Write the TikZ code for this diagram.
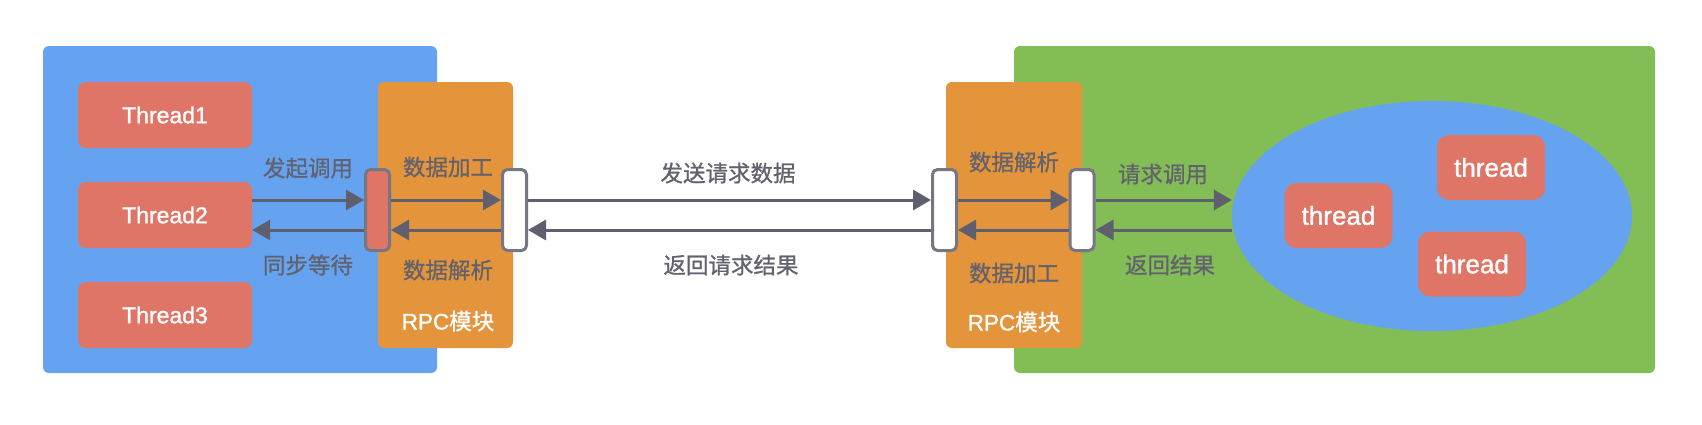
\documentclass[tikz,border=0pt]{standalone}
\usepackage{fontspec}
\setmainfont{Liberation Sans}
\newfontfamily\latinw{Liberation Sans}[FakeBold=1.2]
\newfontfamily\cjk{Noto Sans CJK SC}[FakeBold=0.9]
\usetikzlibrary{arrows.meta,shapes.geometric}
\definecolor{bluebg}{HTML}{65A3F1}
\definecolor{greenbg}{HTML}{83BD55}
\definecolor{orangebg}{HTML}{E4943A}
\definecolor{redbox}{HTML}{DF7566}
\definecolor{arrowgray}{HTML}{5F5F6D}
\definecolor{labelgray}{HTML}{62626E}
\begin{document}
\begin{tikzpicture}[x=1pt,y=-1pt,
  panel/.style={rectangle,rounded corners=6pt,inner sep=0pt,draw=none},
  threadbox/.style={rectangle,rounded corners=8pt,fill=redbox,inner sep=0pt,text=white,
    font=\latinw\fontsize{23}{27}\selectfont},
  smallthread/.style={rectangle,rounded corners=12pt,fill=redbox,inner sep=0pt,text=white,
    minimum width=108pt,minimum height=65pt,font=\latinw\fontsize{26}{30}\selectfont},
  port/.style={rectangle,rounded corners=5pt,draw=arrowgray!85,line width=3pt,
    minimum width=24pt,minimum height=81pt,inner sep=0pt},
  arr/.style={draw=arrowgray,line width=3pt,-{Triangle[length=18pt,width=20pt]}},
  lbl/.style={text=labelgray,inner sep=0pt,font=\cjk\fontsize{22.5}{27}\selectfont},
  wlbl/.style={text=white,inner sep=0pt,font=\latinw\fontsize{22.5}{27}\selectfont}]
\useasboundingbox[fill=white] (0,0) rectangle (1702,424);

% background panels
\node[panel,fill=bluebg,minimum width=394pt,minimum height=327pt] (left) at (240,209.5) {};
\node[panel,fill=greenbg,minimum width=641pt,minimum height=327pt] (right) at (1334.5,209.5) {};
\node[panel,fill=orangebg,minimum width=135pt,minimum height=266pt] (rpcL) at (445.5,215) {};
\node[panel,fill=orangebg,minimum width=136pt,minimum height=266pt] (rpcR) at (1014,215) {};

% threads left
\node[threadbox,minimum width=174pt,minimum height=66pt] (t1) at (165,115) {Thread1};
\node[threadbox,minimum width=174pt,minimum height=66pt] (t2) at (165,215) {Thread2};
\node[threadbox,minimum width=174pt,minimum height=66pt] (t3) at (165,315) {Thread3};

% thread pool
\node[ellipse,fill=bluebg,minimum width=400pt,minimum height=230pt,inner sep=0pt] (pool) at (1432,216) {};
\node[smallthread] (pa) at (1338.5,215.5) {thread};
\node[smallthread] (pb) at (1491,167.5) {thread};
\node[smallthread] (pc) at (1472,264) {thread};

% ports
\node[port,fill=redbox] (p0) at (377.5,210) {};
\node[port,fill=white] (p1) at (514.5,210) {};
\node[port,fill=white] (p2) at (944.5,210) {};
\node[port,fill=white] (p3) at (1082,210) {};

\coordinate (up) at (0,200);
\coordinate (dn) at (0,230);

% arrows
\draw[arr] (t2.east |- up) -- (p0.west |- up);
\draw[arr] (p0.west |- dn) -- (t2.east |- dn);
\draw[arr] (p0.east |- up) -- (p1.west |- up);
\draw[arr] (p1.west |- dn) -- (p0.east |- dn);
\draw[arr] (p1.east |- up) -- (p2.west |- up);
\draw[arr] (p2.west |- dn) -- (p1.east |- dn);
\draw[arr] (p2.east |- up) -- (p3.west |- up);
\draw[arr] (p3.west |- dn) -- (p2.east |- dn);
\draw[arr] (p3.east |- up) -- (pool.west |- up);
\draw[arr] (pool.west |- dn) -- (p3.east |- dn);

% labels
\node[lbl] (l1) at (308,168) {发起调用};
\node[lbl] (l2) at (308,265) {同步等待};
\node[lbl] (l3) at (448,167) {数据加工};
\node[lbl] (l4) at (448,270) {数据解析};
\node[wlbl] (l5) at (448,321) {RPC{\cjk\color{white} 模块}};
\node[lbl] (l6) at (728,173) {发送请求数据};
\node[lbl] (l7) at (731,265) {返回请求结果};
\node[lbl] (l8) at (1014,162) {数据解析};
\node[lbl] (l9) at (1014,273) {数据加工};
\node[wlbl] (l10) at (1014,322) {RPC{\cjk\color{white} 模块}};
\node[lbl] (l11) at (1163,174) {请求调用};
\node[lbl] (l12) at (1170,265) {返回结果};
\end{tikzpicture}
\end{document}
